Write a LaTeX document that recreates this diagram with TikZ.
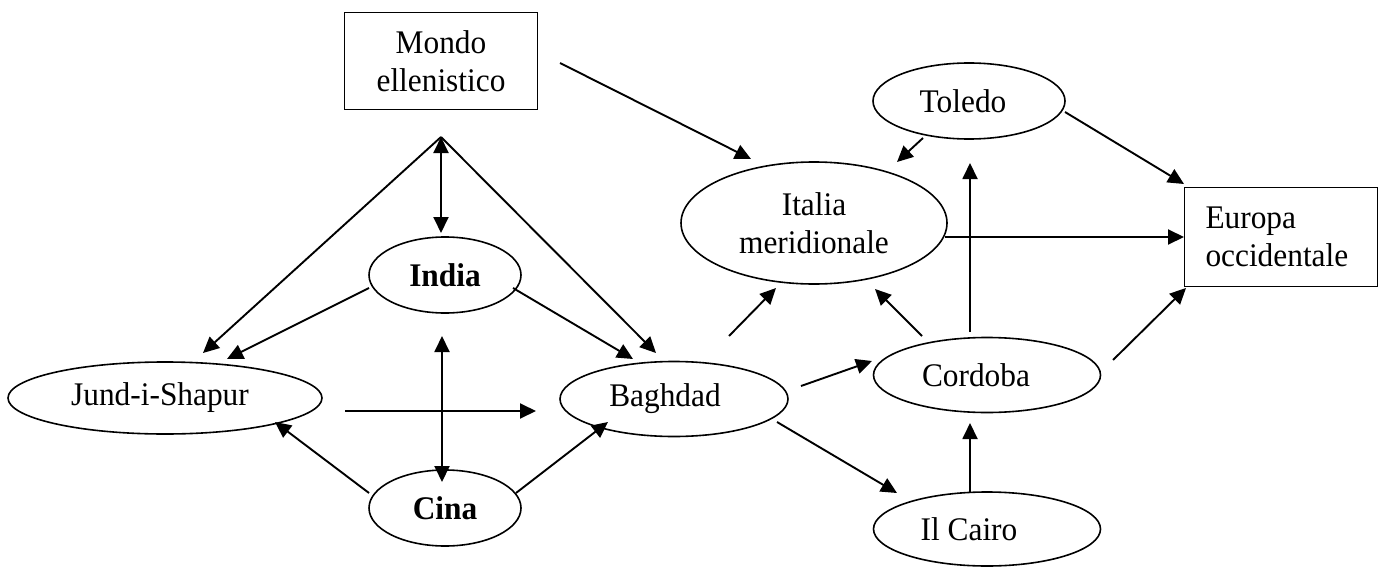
\documentclass[tikz,border=0pt]{standalone}
\usepackage{fontspec}
\setmainfont[FakeStretch=0.95]{Liberation Serif}
\usetikzlibrary{shapes.geometric,arrows.meta,calc}
\begin{document}
\begin{tikzpicture}[x=1pt,y=-1pt,
  every node/.style={font=\fontsize{33}{37.5}\selectfont},
  ell/.style={ellipse, draw, line width=1.6pt, inner sep=0pt},
  boxnode/.style={rectangle, draw, line width=1.5pt},
  arr/.style={line width=1.9pt, -{Triangle[length=16pt,width=15pt]}},
  darr/.style={line width=1.9pt, {Triangle[length=16pt,width=15pt]}-{Triangle[length=16pt,width=15pt]}},
  ln/.style={line width=1.9pt}]
\useasboundingbox (0,0) rectangle (1380,567);

% nodes
\node[boxnode, minimum width=193pt, minimum height=97pt, align=center] (mondo) at (441,61) {Mondo\\ellenistico};
\node[boxnode, minimum width=193pt, minimum height=99pt, text width=151pt, inner xsep=21pt, align=left] (europa) at (1281,237) {Europa\\occidentale};
\node[ell, minimum width=192pt, minimum height=76pt] (toledo) at (969,101) {\hspace*{-12pt}Toledo};
\node[ell, minimum width=266pt, minimum height=122pt, align=center] (italia) at (814,223) {Italia\\meridionale};
\node[ell, minimum width=152pt, minimum height=76pt] (india) at (445,275) {\bfseries India};
\node[ell, minimum width=314pt, minimum height=72pt] (jund) at (165,398) {\hspace*{-10pt}Jund-i-Shapur};
\node[ell, minimum width=228pt, minimum height=75pt] (baghdad) at (674,399) {\hspace*{-18pt}Baghdad};
\node[ell, minimum width=227pt, minimum height=75pt] (cordoba) at (987,375) {\hspace*{-22pt}Cordoba};
\node[ell, minimum width=152pt, minimum height=76pt] (cina) at (445,508) {\bfseries Cina};
\node[ell, minimum width=227pt, minimum height=74pt] (cairo) at (987,529) {\hspace*{-36pt}Il Cairo};

\coordinate (apex) at ($(mondo)+(0,76)$);

% connectors
\draw[arr] ($(mondo)+(119,2)$) -- ($(italia)+(-63,-64)$);
\draw[darr] (apex) -- ($(india)+(-4,-42)$);
\draw[arr] (apex) -- ($(jund)+(38,-45)$);
\draw[arr] (apex) -- ($(baghdad)+(-18,-46)$);
\draw[arr] ($(india)+(-76,13)$) -- ($(jund)+(62,-39)$);
\draw[arr] ($(india)+(68,13)$) -- ($(baghdad)+(-41,-40)$);
\draw[darr] ($(india)+(-3,61)$) -- ($(cina)+(-3,-26)$);
\draw[arr] ($(jund)+(180,13)$) -- ($(baghdad)+(-138,12)$);
\draw[arr] ($(cina)+(-76,-15)$) -- ($(jund)+(110,24)$);
\draw[arr] ($(cina)+(71,-15)$) -- ($(baghdad)+(-66,23)$);
\draw[arr] ($(baghdad)+(55,-63)$) -- ($(italia)+(-38,65)$);
\draw[arr] ($(baghdad)+(127,-13)$) -- ($(cordoba)+(-115,-14)$);
\draw[arr] ($(baghdad)+(103,23)$) -- ($(cairo)+(-90,-36)$);
\draw[arr] ($(cairo)+(-17,-36)$) -- ($(cordoba)+(-17,48)$);
\draw[arr] ($(cordoba)+(-65,-39)$) -- ($(italia)+(61,66)$);
\draw[arr] ($(cordoba)+(-17,-43)$) -- ($(toledo)+(1,62)$);
\draw[arr] ($(cordoba)+(126,-15)$) -- ($(europa)+(-95,51)$);
\draw[arr] ($(italia)+(131,14)$) -- ($(europa)+(-97,0)$);
\draw[arr] ($(toledo)+(96,11)$) -- ($(europa)+(-97,-53)$);
\draw[arr] ($(toledo)+(-46,37)$) -- ($(italia)+(83,-61)$);
\end{tikzpicture}
\end{document}
